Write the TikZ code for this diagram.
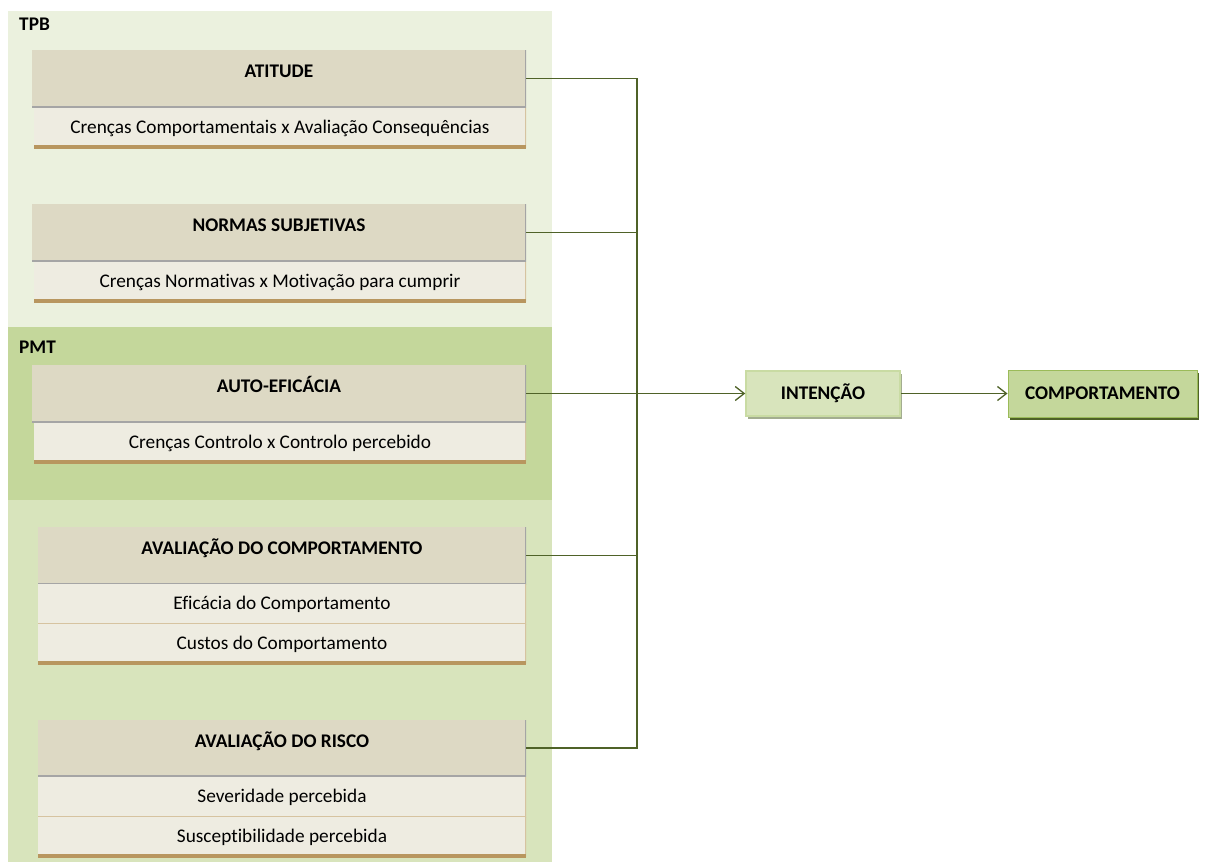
\documentclass[tikz,border=0pt]{standalone}
\usepackage{fontspec}
\setmainfont{Carlito}[Ligatures=CommonOff]
\usetikzlibrary{arrows.meta,shadows}
\definecolor{tpbgreen}{HTML}{EBF1DE}
\definecolor{pmtgreen}{HTML}{C4D79B}
\definecolor{lowgreen}{HTML}{D8E4BC}
\definecolor{headtan}{HTML}{DDD9C4}
\definecolor{subcream}{HTML}{EEECE1}
\definecolor{edgegray}{HTML}{A5A5A5}
\definecolor{subtan}{HTML}{D6C3A0}
\definecolor{subbrown}{HTML}{B8965F}
\definecolor{linkgreen}{HTML}{4F6228}
\definecolor{intedge}{HTML}{C9DBA3}
\definecolor{intshadow}{HTML}{A3AD90}
\definecolor{behedge}{HTML}{9BBB59}
\newcommand{\diagfont}{\fontsize{19.3}{23}\selectfont}

\begin{document}
\begin{tikzpicture}[x=1pt, y=-1pt,
  tag/.style={anchor=west, inner sep=0pt, font=\diagfont\bfseries},
  head/.style={fill=headtan, minimum width=494pt, minimum height=57pt, inner sep=0pt, font=\diagfont\bfseries, text height=12pt, text depth=14pt,
    path picture={\draw[edgegray, line width=3pt] (path picture bounding box.north east) -- (path picture bounding box.south east) -- (path picture bounding box.south west);}},
  sub/.style={fill=subcream, minimum width=492pt, minimum height=40pt, inner sep=0pt, font=\diagfont,
    path picture={\draw[subtan, line width=3pt] (path picture bounding box.north east) -- (path picture bounding box.south east) -- (path picture bounding box.south west);}},
  sublast/.style={sub,
    path picture={\draw[subtan, line width=3pt] (path picture bounding box.north east) -- (path picture bounding box.south east); \draw[subbrown, line width=7pt] (path picture bounding box.south east) -- (path picture bounding box.south west);}},
  intbox/.style={fill=lowgreen, draw=intedge, line width=1.5pt, minimum width=154pt, minimum height=45pt, font=\diagfont\bfseries,
    drop shadow={shadow xshift=2pt, shadow yshift=-3pt, fill=intshadow, opacity=1}},
  behbox/.style={fill=pmtgreen, draw=behedge, line width=1pt, minimum width=189pt, minimum height=47pt, font=\diagfont\bfseries,
    drop shadow={shadow xshift=2pt, shadow yshift=-3pt, fill=linkgreen, opacity=1}},
  link/.style={draw=linkgreen, line width=1.3pt},
  arrow/.style={link, -{Straight Barb[length=9pt, width=14pt, line width=1.3pt]}}]
 \useasboundingbox (0,0) rectangle (1207,862);
 \fill[tpbgreen] (8,11) rectangle (552,327);
 \fill[pmtgreen] (8,327) rectangle (552,500);
 \fill[lowgreen] (8,500) rectangle (552,862);
 \node[tag] (tpb) at (19,24) {TPB};
 \node[tag] (pmt) at (19,347) {PMT};

 \node[head] (att) at (279,78.5) {ATITUDE};
 \node[sublast] (attsub) at (280,128) {Crenças Comportamentais x Avaliação Consequências};
 \node[head] (nor) at (279,232.5) {NORMAS SUBJETIVAS};
 \node[sublast] (norsub) at (280,282) {Crenças Normativas x Motivação para cumprir};
 \node[head] (auto) at (279,393.5) {AUTO-EFICÁCIA};
 \node[sublast] (autosub) at (280,443) {Crenças Controlo x Controlo percebido};
 \node[head, minimum width=488pt] (comp) at (282,555.5) {AVALIAÇÃO DO COMPORTAMENTO};
 \node[sub, minimum width=488pt] (compa) at (282,604) {Eficácia do Comportamento};
 \node[sublast, minimum width=488pt] (compb) at (282,644) {Custos do Comportamento};
 \node[head, minimum width=488pt] (risk) at (282,748) {AVALIAÇÃO DO RISCO};
 \node[sub, minimum width=488pt] (riska) at (282,797) {Severidade percebida};
 \node[sublast, minimum width=488pt] (riskb) at (282,837) {Susceptibilidade percebida};

 \node[intbox] (int) at (823,393.5) {INTENÇÃO};
 \node[behbox] (beh) at (1102.5,393.5) {COMPORTAMENTO};

 \coordinate (hub) at (637,393.5);
 \draw[link] (att.east) -| (hub);
 \draw[link] (nor.east) -| (hub);
 \draw[link] (comp.east) -| (hub);
 \draw[link] (risk.east) -| (hub);
 \draw[arrow] (auto.east) -- (int.west);
 \draw[arrow] (int.east) -- (beh.west);
\end{tikzpicture}
\end{document}
